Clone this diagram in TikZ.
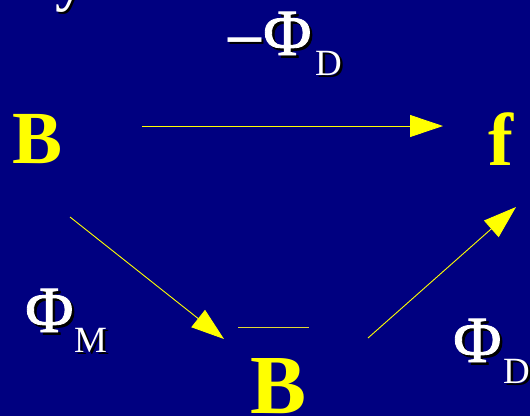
\documentclass[tikz,border=0pt]{standalone}
\usepackage{fontspec}
\setmainfont{Liberation Serif}
\newfontfamily\phifont{Liberation Serif}[FakeBold=1.3]
\usetikzlibrary{arrows.meta}
\definecolor{navybg}{RGB}{0,0,128}
\definecolor{ylw}{RGB}{255,255,0}
\definecolor{barcol}{RGB}{225,215,50}
\tikzset{
  big/.style={inner sep=0pt, text=ylw, font=\bfseries\fontsize{75}{75}\selectfont, anchor=base west},
  phiw/.style={inner sep=0pt, text=white, font=\phifont\fontsize{66}{66}\selectfont, anchor=base west},
  phis/.style={phiw, text=black},
  subw/.style={inner sep=0pt, text=white, font=\fontsize{37}{37}\selectfont, anchor=base west},
  subs/.style={subw, text=black},
  arr/.style={draw=ylw, line width=0.9pt, -{Triangle[length=33pt,width=22pt]}},
}
\begin{document}
\begin{tikzpicture}[x=1pt,y=-1pt]
\useasboundingbox (0,0) rectangle (530,416);
\clip (0,0) rectangle (530,416);
\fill[navybg] (0,0) rectangle (530,416);
% partial title letter
\node[phis, font=\bfseries\fontsize{60}{60}\selectfont] (ys) at (57,1) {y};
\node[phiw, font=\bfseries\fontsize{60}{60}\selectfont] (y) at (55,-1) {y};
% main letters
\node[big] (B) at (12,163) {B};
\node[big] (f) at (488,165) {f};
\node[big, font=\bfseries\fontsize{84}{84}\selectfont] (Bbar) at (250,413) {B};
% top label -Phi_D
\node[phis, font=\bfseries\fontsize{66}{66}\selectfont] (mins) at (230.5,57.5) {\char"2013};
\node[phiw, font=\bfseries\fontsize{66}{66}\selectfont] (min) at (228,55) {\char"2013};
\node[phis] (phiDs) at (265.5,57.5) {Φ};
\node[phiw] (phiD) at (263,55) {Φ};
\node[subs] (Ds) at (317.5,77.5) {D};
\node[subw] (D) at (315,75) {D};
% left label Phi_M
\node[phis] (phiMs) at (27.5,334.5) {Φ};
\node[phiw] (phiM) at (25,332) {Φ};
\node[subs] (Ms) at (76.5,354.5) {M};
\node[subw] (M) at (74,352) {M};
% right label Phi_D
\node[phis] (phiD2s) at (455.5,364.5) {Φ};
\node[phiw] (phiD2) at (453,362) {Φ};
\node[subs] (D2s) at (505.5,385.5) {D};
\node[subw] (D2) at (503,383) {D};
% arrows
\coordinate (h1) at (142,126);
\coordinate (h2) at (443,126);
\coordinate (d1) at (70,217);
\coordinate (d2) at (224,339);
\coordinate (e1) at (368,338);
\coordinate (e2) at (516,207);
\draw[arr] (h1) -- (h2);
\draw[arr] (d1) -- (d2);
\draw[arr] (e1) -- (e2);
% bar over B
\coordinate (bar1) at (238,327.5);
\coordinate (bar2) at (309,327.5);
\draw[barcol, line width=1.4pt] (bar1) -- (bar2);
\end{tikzpicture}
\end{document}
